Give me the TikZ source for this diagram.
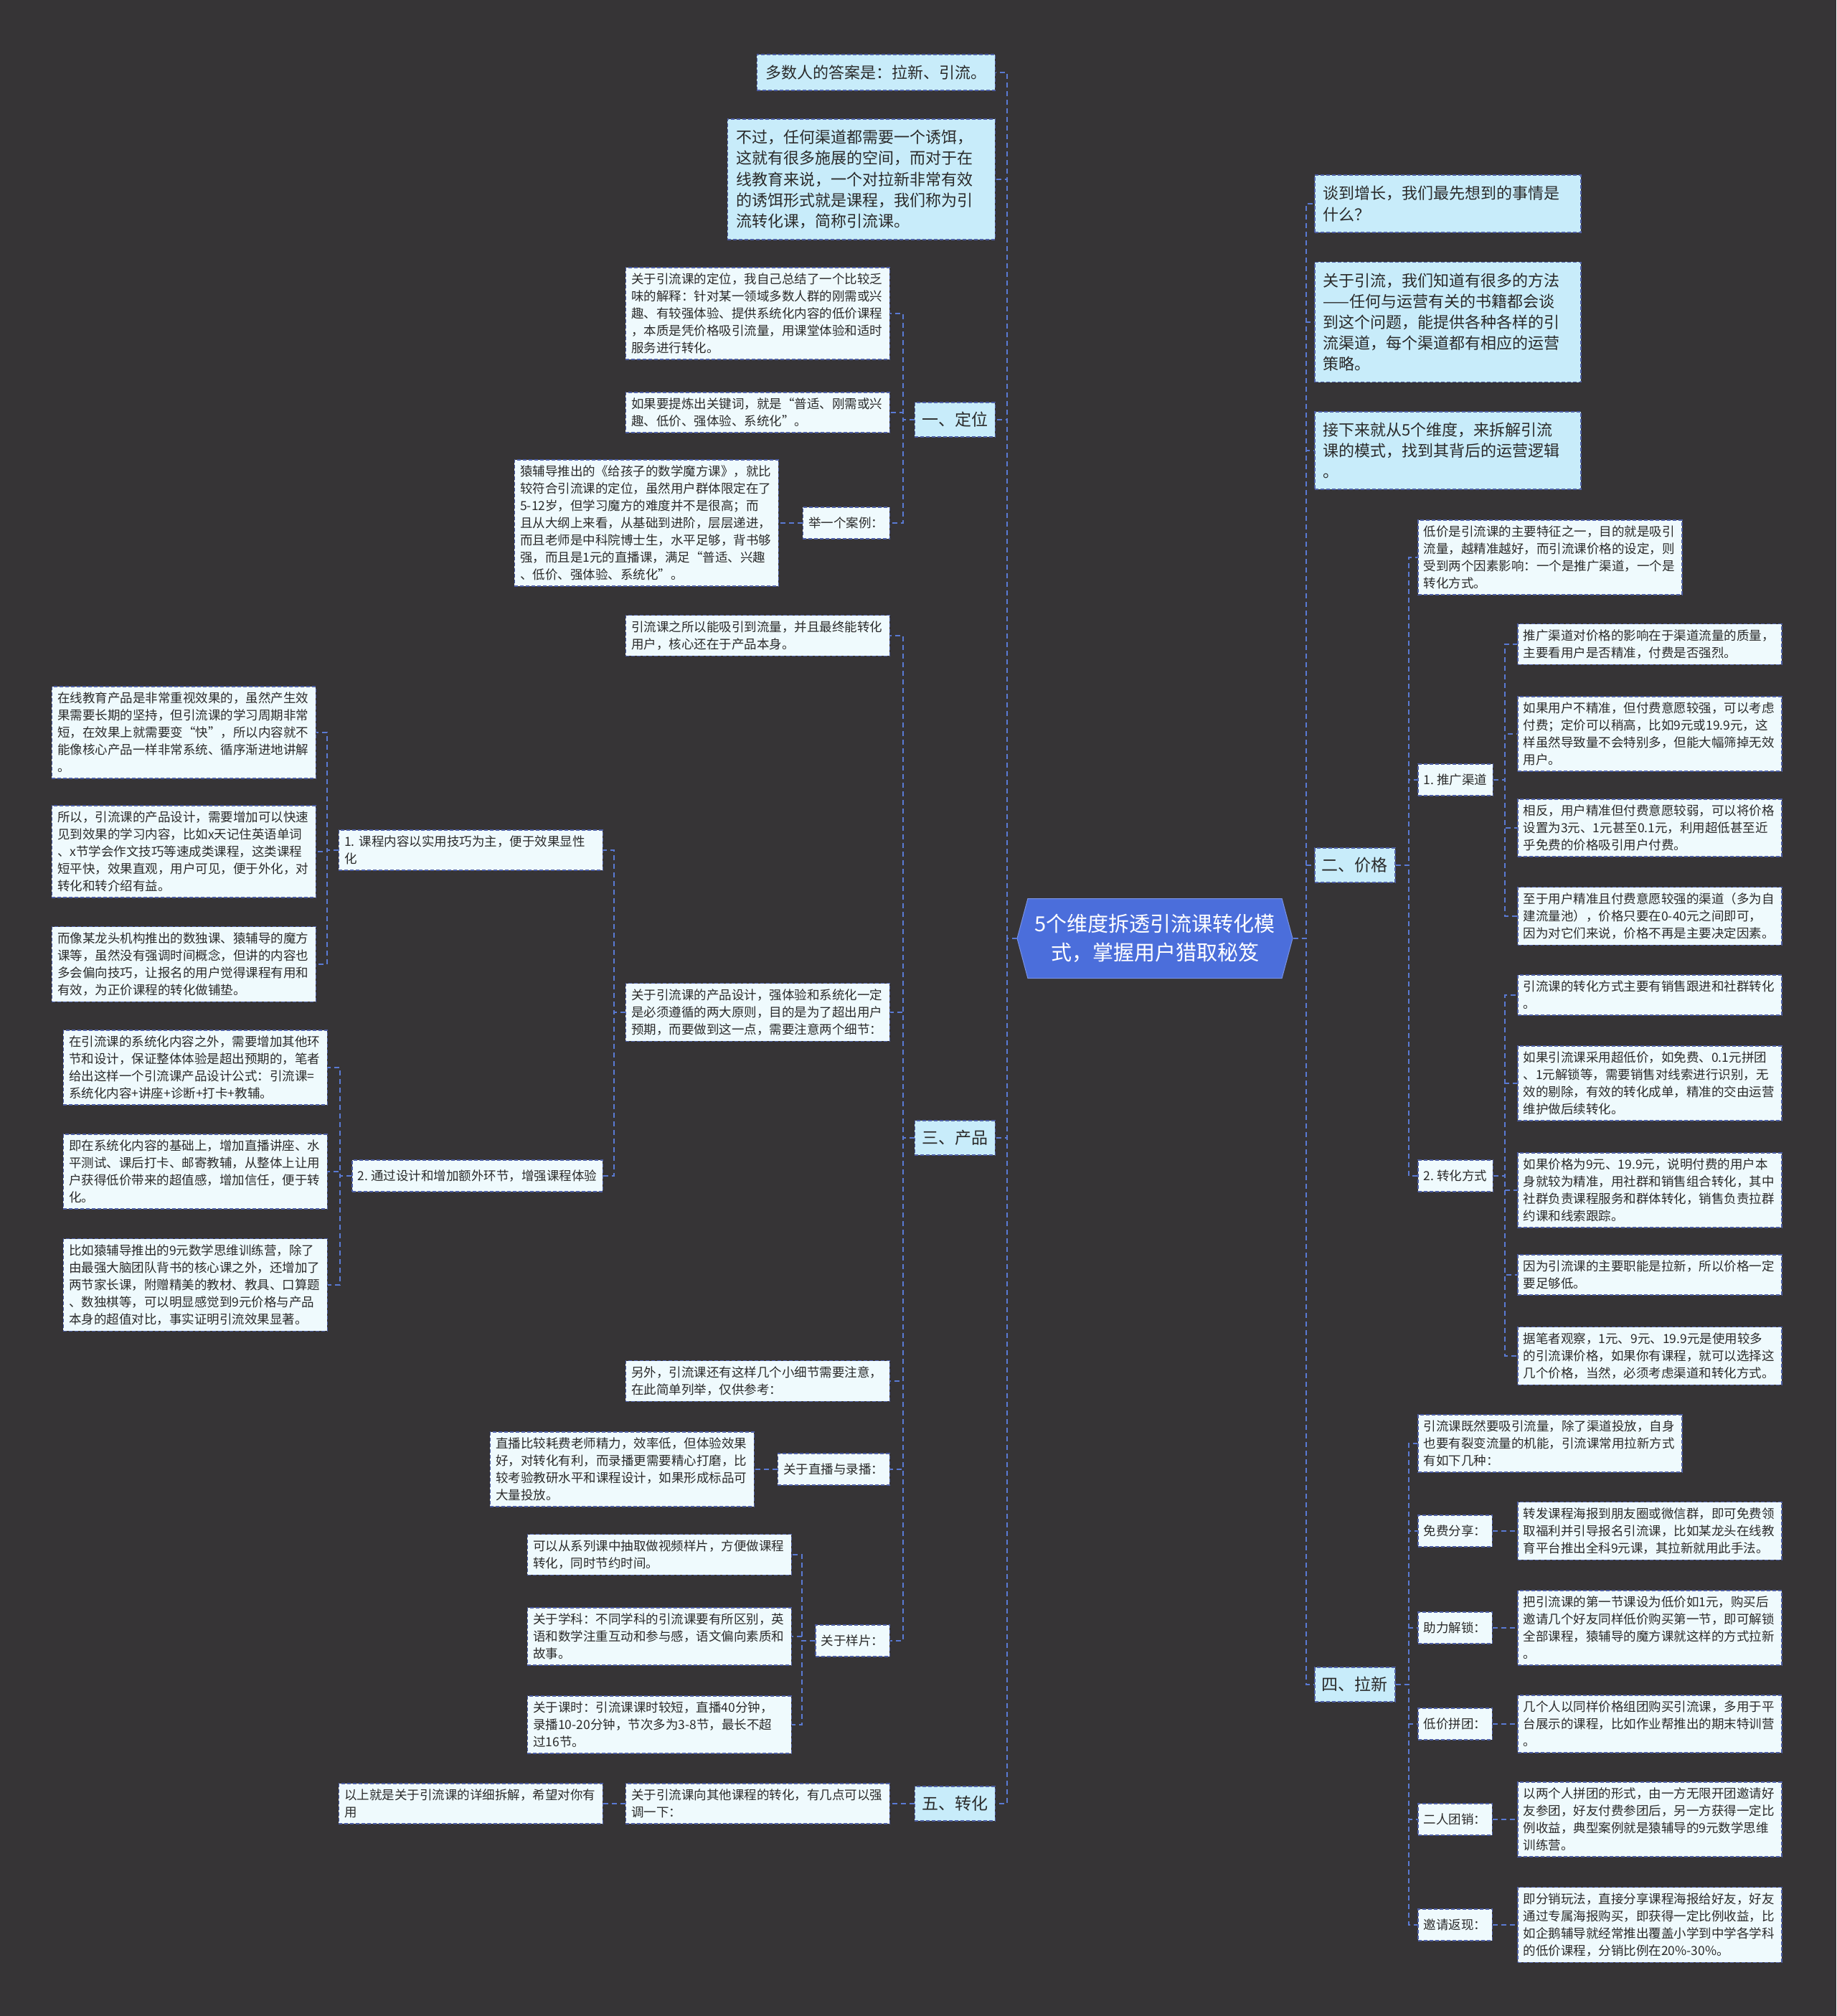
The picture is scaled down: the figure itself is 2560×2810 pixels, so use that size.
\documentclass[tikz,border=0pt]{standalone}
\usepackage{fontspec}
\setmainfont{Noto Sans CJK SC}
\usepackage{tikz}
\usetikzlibrary{shapes.symbols}
\definecolor{cBg}{HTML}{363436}
\definecolor{cRoot}{HTML}{4B6EDB}
\definecolor{cTop}{HTML}{C8ECFA}
\definecolor{cLeaf}{HTML}{EFFAFD}
\definecolor{cEdge}{HTML}{4E5FA6}
\definecolor{cLink}{HTML}{5A7AD4}
\definecolor{cInk}{HTML}{2A2A2A}
\tikzset{
  box/.style   ={draw=cEdge,dash pattern=on 5pt off 3pt,line width=1.5pt,
                 text=cInk,inner xsep=8pt,inner ysep=8pt},
  leaf/.style  ={box,fill=cLeaf,align=left,text width=352pt,
                 font=\fontsize{17.5}{24}\selectfont},
  tag/.style   ={box,fill=cLeaf,minimum height=44pt,
                 font=\fontsize{17.5}{24}\selectfont},
  topbox/.style={box,fill=cTop,align=left,inner xsep=12pt,inner ysep=15pt,
                 font=\fontsize{22}{29.2}\selectfont},
  sec/.style   ={box,fill=cTop,inner xsep=10pt,minimum height=48pt,
                 font=\fontsize{23}{29}\selectfont},
  root/.style  ={signal,signal to=west and east,signal pointer angle=150,
                 fill=cRoot,draw=cRoot!75!white,line width=1pt,text=white,
                 align=center,minimum width=384pt,minimum height=111pt,
                 inner sep=0pt,font=\fontsize{29}{40}\selectfont},
  ln/.style    ={draw=cLink,dash pattern=on 7pt off 5pt,line width=2pt},
}

\begin{document}
\begin{tikzpicture}[x=1pt,y=-1pt]
\fill[cBg] (0,0) rectangle (2560,2810);
\useasboundingbox (0,0) rectangle (2560,2810);

% centre
\node[root] (root) at (1610,1308) {5个维度拆透引流课转化模\\式，掌握用户猎取秘笈};

% left side
\node[topbox,anchor=east] (ans) at (1388,101) {多数人的答案是：拉新、引流。};
\node[topbox,text width=349pt,anchor=east] (bait) at (1388,250) {不过，任何渠道都需要一个诱饵，\\这就有很多施展的空间，而对于在\\线教育来说，一个对拉新非常有效\\的诱饵形式就是课程，我们称为引\\流转化课，简称引流课。};

\node[sec,anchor=east] (pos) at (1388,585) {一、定位};
\node[leaf,anchor=east] (pos1) at (1241,437) {关于引流课的定位，我自己总结了一个比较乏\\味的解释：针对某一领域多数人群的刚需或兴\\趣、有较强体验、提供系统化内容的低价课程\\，本质是凭价格吸引流量，用课堂体验和适时\\服务进行转化。};
\node[leaf,anchor=east] (pos2) at (1241,575) {如果要提炼出关键词，就是“普适、刚需或兴\\趣、低价、强体验、系统化”。};
\node[tag,anchor=east] (case) at (1241,729) {举一个案例：};
\node[leaf,anchor=east] (case1) at (1086,729) {猿辅导推出的《给孩子的数学魔方课》，就比\\较符合引流课的定位，虽然用户群体限定在了\\5-12岁，但学习魔方的难度并不是很高；而\\且从大纲上来看，从基础到进阶，层层递进，\\而且老师是中科院博士生，水平足够，背书够\\强，而且是1元的直播课，满足“普适、兴趣\\、低价、强体验、系统化”。};

\node[sec,anchor=east] (prod) at (1388,1586) {三、产品};
\node[leaf,anchor=east] (prod1) at (1241,886) {引流课之所以能吸引到流量，并且最终能转化\\用户，核心还在于产品本身。};
\node[leaf,anchor=east] (prod2) at (1241,1411) {关于引流课的产品设计，强体验和系统化一定\\是必须遵循的两大原则，目的是为了超出用户\\预期，而要做到这一点，需要注意两个细节：};
\node[leaf,anchor=east] (tip1) at (841,1185) {1.~课程内容以实用技巧为主，便于效果显性\\化};
\node[leaf,anchor=east] (tip1a) at (441,1021) {在线教育产品是非常重视效果的，虽然产生效\\果需要长期的坚持，但引流课的学习周期非常\\短，在效果上就需要变“快”，所以内容就不\\能像核心产品一样非常系统、循序渐进地讲解\\。};
\node[leaf,anchor=east] (tip1b) at (441,1187) {所以，引流课的产品设计，需要增加可以快速\\见到效果的学习内容，比如x天记住英语单词\\、x节学会作文技巧等速成类课程，这类课程\\短平快，效果直观，用户可见，便于外化，对\\转化和转介绍有益。};
\node[leaf,anchor=east] (tip1c) at (441,1344) {而像某龙头机构推出的数独课、猿辅导的魔方\\课等，虽然没有强调时间概念，但讲的内容也\\多会偏向技巧，让报名的用户觉得课程有用和\\有效，为正价课程的转化做铺垫。};
\node[tag,anchor=east] (tip2) at (841,1639) {2.~通过设计和增加额外环节，增强课程体验};
\node[leaf,anchor=east] (tip2a) at (457,1488) {在引流课的系统化内容之外，需要增加其他环\\节和设计，保证整体体验是超出预期的，笔者\\给出这样一个引流课产品设计公式：引流课=\\系统化内容+讲座+诊断+打卡+教辅。};
\node[leaf,anchor=east] (tip2b) at (457,1633) {即在系统化内容的基础上，增加直播讲座、水\\平测试、课后打卡、邮寄教辅，从整体上让用\\户获得低价带来的超值感，增加信任，便于转\\化。};
\node[leaf,anchor=east] (tip2c) at (457,1791) {比如猿辅导推出的9元数学思维训练营，除了\\由最强大脑团队背书的核心课之外，还增加了\\两节家长课，附赠精美的教材、教具、口算题\\、数独棋等，可以明显感觉到9元价格与产品\\本身的超值对比，事实证明引流效果显著。};
\node[leaf,anchor=east] (prod3) at (1241,1925) {另外，引流课还有这样几个小细节需要注意，\\在此简单列举，仅供参考：};
\node[tag,anchor=east] (live) at (1241,2048) {关于直播与录播：};
\node[leaf,anchor=east] (live1) at (1052,2048) {直播比较耗费老师精力，效率低，但体验效果\\好，对转化有利，而录播更需要精心打磨，比\\较考验教研水平和课程设计，如果形成标品可\\大量投放。};
\node[tag,anchor=east] (demo) at (1241,2287) {关于样片：};
\node[leaf,anchor=east] (demo1) at (1104,2167) {可以从系列课中抽取做视频样片，方便做课程\\转化，同时节约时间。};
\node[leaf,anchor=east] (demo2) at (1104,2281) {关于学科：不同学科的引流课要有所区别，英\\语和数学注重互动和参与感，语文偏向素质和\\故事。};
\node[leaf,anchor=east] (demo3) at (1104,2404) {关于课时：引流课课时较短，直播40分钟，\\录播10-20分钟，节次多为3-8节，最长不超\\过16节。};

\node[sec,anchor=east] (conv) at (1388,2514) {五、转化};
\node[leaf,anchor=east] (conv1) at (1241,2514) {关于引流课向其他课程的转化，有几点可以强\\调一下：};
\node[leaf,anchor=east] (conv2) at (841,2514) {以上就是关于引流课的详细拆解，希望对你有\\用};

% right side
\node[topbox,text width=347pt,anchor=west] (grow) at (1832,284) {谈到增长，我们最先想到的事情是\\什么？};
\node[topbox,text width=347pt,anchor=west] (way) at (1832,449) {关于引流，我们知道有很多的方法\\——任何与运营有关的书籍都会谈\\到这个问题，能提供各种各样的引\\流渠道，每个渠道都有相应的运营\\策略。};
\node[topbox,text width=347pt,anchor=west] (next) at (1832,628) {接下来就从5个维度，来拆解引流\\课的模式，找到其背后的运营逻辑\\。};

\node[sec,anchor=west] (price) at (1832,1206) {二、价格};
\node[leaf,anchor=west] (price1) at (1976,777) {低价是引流课的主要特征之一，目的就是吸引\\流量，越精准越好，而引流课价格的设定，则\\受到两个因素影响：一个是推广渠道，一个是\\转化方式。};
\node[tag,anchor=west] (chan) at (1976,1087) {1.~推广渠道};
\node[leaf,anchor=west] (chan1) at (2115,898) {推广渠道对价格的影响在于渠道流量的质量，\\主要看用户是否精准，付费是否强烈。};
\node[leaf,anchor=west] (chan2) at (2115,1023) {如果用户不精准，但付费意愿较强，可以考虑\\付费；定价可以稍高，比如9元或19.9元，这\\样虽然导致量不会特别多，但能大幅筛掉无效\\用户。};
\node[leaf,anchor=west] (chan3) at (2115,1154) {相反，用户精准但付费意愿较弱，可以将价格\\设置为3元、1元甚至0.1元，利用超低甚至近\\乎免费的价格吸引用户付费。};
\node[leaf,anchor=west] (chan4) at (2115,1277) {至于用户精准且付费意愿较强的渠道（多为自\\建流量池），价格只要在0-40元之间即可，\\因为对它们来说，价格不再是主要决定因素。};
\node[tag,anchor=west] (mode) at (1976,1639) {2.~转化方式};
\node[leaf,anchor=west] (mode1) at (2115,1387) {引流课的转化方式主要有销售跟进和社群转化\\。};
\node[leaf,anchor=west] (mode2) at (2115,1510) {如果引流课采用超低价，如免费、0.1元拼团\\、1元解锁等，需要销售对线索进行识别，无\\效的剔除，有效的转化成单，精准的交由运营\\维护做后续转化。};
\node[leaf,anchor=west] (mode3) at (2115,1659) {如果价格为9元、19.9元，说明付费的用户本\\身就较为精准，用社群和销售组合转化，其中\\社群负责课程服务和群体转化，销售负责拉群\\约课和线索跟踪。};
\node[leaf,anchor=west] (mode4) at (2115,1777) {因为引流课的主要职能是拉新，所以价格一定\\要足够低。};
\node[leaf,anchor=west] (mode5) at (2115,1890) {据笔者观察，1元、9元、19.9元是使用较多\\的引流课价格，如果你有课程，就可以选择这\\几个价格，当然，必须考虑渠道和转化方式。};

\node[sec,anchor=west] (pull) at (1832,2348) {四、拉新};
\node[leaf,anchor=west] (pull0) at (1976,2012) {引流课既然要吸引流量，除了渠道投放，自身\\也要有裂变流量的机能，引流课常用拉新方式\\有如下几种：};
\node[tag,anchor=west] (share) at (1976,2134) {免费分享：};
\node[leaf,anchor=west] (share1) at (2115,2134) {转发课程海报到朋友圈或微信群，即可免费领\\取福利并引导报名引流课，比如某龙头在线教\\育平台推出全科9元课，其拉新就用此手法。};
\node[tag,anchor=west] (unlock) at (1976,2269) {助力解锁：};
\node[leaf,anchor=west] (unlock1) at (2115,2269) {把引流课的第一节课设为低价如1元，购买后\\邀请几个好友同样低价购买第一节，即可解锁\\全部课程，猿辅导的魔方课就这样的方式拉新\\。};
\node[tag,anchor=west] (group) at (1976,2403) {低价拼团：};
\node[leaf,anchor=west] (group1) at (2115,2403) {几个人以同样价格组团购买引流课，多用于平\\台展示的课程，比如作业帮推出的期末特训营\\。};
\node[tag,anchor=west] (duo) at (1976,2536) {二人团销：};
\node[leaf,anchor=west] (duo1) at (2115,2536) {以两个人拼团的形式，由一方无限开团邀请好\\友参团，好友付费参团后，另一方获得一定比\\例收益，典型案例就是猿辅导的9元数学思维\\训练营。};
\node[tag,anchor=west] (invite) at (1976,2683) {邀请返现：};
\node[leaf,anchor=west] (invite1) at (2115,2683) {即分销玩法，直接分享课程海报给好友，好友\\通过专属海报购买，即获得一定比例收益，比\\如企鹅辅导就经常推出覆盖小学到中学各学科\\的低价课程，分销比例在20\%-30\%。};

% left connectors
\draw[ln] (root.west) -- ++(-14,0) |- (ans.east);
\draw[ln] (root.west) -- ++(-14,0) |- (bait.east);
\draw[ln] (root.west) -- ++(-14,0) |- (pos.east);
\draw[ln] (root.west) -- ++(-14,0) |- (prod.east);
\draw[ln] (root.west) -- ++(-14,0) |- (conv.east);
\draw[ln] (pos.west) -- ++(-16,0) |- (pos1.east);
\draw[ln] (pos.west) -- ++(-16,0) |- (pos2.east);
\draw[ln] (pos.west) -- ++(-16,0) |- (case.east);
\draw[ln] (case.west) -- (case1.east);
\draw[ln] (prod.west) -- ++(-16,0) |- (prod1.east);
\draw[ln] (prod.west) -- ++(-16,0) |- (prod2.east);
\draw[ln] (prod.west) -- ++(-16,0) |- (prod3.east);
\draw[ln] (prod.west) -- ++(-16,0) |- (live.east);
\draw[ln] (prod.west) -- ++(-16,0) |- (demo.east);
\draw[ln] (prod2.west) -- ++(-16,0) |- (tip1.east);
\draw[ln] (prod2.west) -- ++(-16,0) |- (tip2.east);
\draw[ln] (tip1.west) -- ++(-16,0) |- (tip1a.east);
\draw[ln] (tip1.west) -- ++(-16,0) |- (tip1b.east);
\draw[ln] (tip1.west) -- ++(-16,0) |- (tip1c.east);
\draw[ln] (tip2.west) -- ++(-16,0) |- (tip2a.east);
\draw[ln] (tip2.west) -- ++(-16,0) |- (tip2b.east);
\draw[ln] (tip2.west) -- ++(-16,0) |- (tip2c.east);
\draw[ln] (live.west) -- (live1.east);
\draw[ln] (demo.west) -- ++(-18,0) |- (demo1.east);
\draw[ln] (demo.west) -- ++(-18,0) |- (demo2.east);
\draw[ln] (demo.west) -- ++(-18,0) |- (demo3.east);
\draw[ln] (conv.west) -- (conv1.east);
\draw[ln] (conv1.west) -- (conv2.east);

% right connectors
\draw[ln] (root.east) -- ++(18,0) |- (grow.west);
\draw[ln] (root.east) -- ++(18,0) |- (way.west);
\draw[ln] (root.east) -- ++(18,0) |- (next.west);
\draw[ln] (root.east) -- ++(18,0) |- (price.west);
\draw[ln] (root.east) -- ++(18,0) |- (pull.west);
\draw[ln] (price.east) -- ++(18,0) |- (price1.west);
\draw[ln] (price.east) -- ++(18,0) |- (chan.west);
\draw[ln] (price.east) -- ++(18,0) |- (mode.west);
\draw[ln] (chan.east) -- ++(16,0) |- (chan1.west);
\draw[ln] (chan.east) -- ++(16,0) |- (chan2.west);
\draw[ln] (chan.east) -- ++(16,0) |- (chan3.west);
\draw[ln] (chan.east) -- ++(16,0) |- (chan4.west);
\draw[ln] (mode.east) -- ++(16,0) |- (mode1.west);
\draw[ln] (mode.east) -- ++(16,0) |- (mode2.west);
\draw[ln] (mode.east) -- ++(16,0) |- (mode3.west);
\draw[ln] (mode.east) -- ++(16,0) |- (mode4.west);
\draw[ln] (mode.east) -- ++(16,0) |- (mode5.west);
\draw[ln] (pull.east) -- ++(18,0) |- (pull0.west);
\draw[ln] (pull.east) -- ++(18,0) |- (share.west);
\draw[ln] (pull.east) -- ++(18,0) |- (unlock.west);
\draw[ln] (pull.east) -- ++(18,0) |- (group.west);
\draw[ln] (pull.east) -- ++(18,0) |- (duo.west);
\draw[ln] (pull.east) -- ++(18,0) |- (invite.west);
\draw[ln] (share.east) -- (share1.west);
\draw[ln] (unlock.east) -- (unlock1.west);
\draw[ln] (group.east) -- (group1.west);
\draw[ln] (duo.east) -- (duo1.west);
\draw[ln] (invite.east) -- (invite1.west);
\end{tikzpicture}
\end{document}
